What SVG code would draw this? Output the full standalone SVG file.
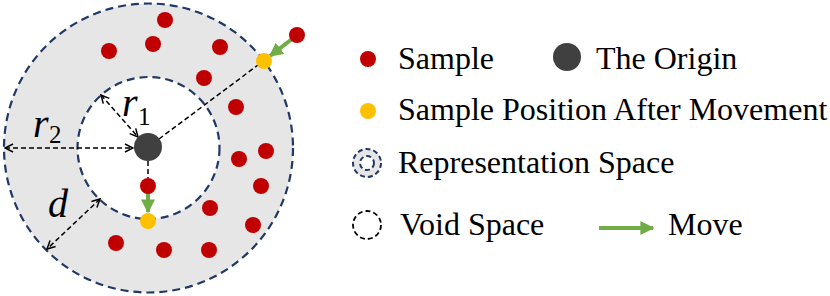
<svg xmlns="http://www.w3.org/2000/svg" width="830" height="296" viewBox="0 0 830 296">
<style>
.ring{stroke:#1f3864;stroke-width:2.2;stroke-dasharray:8 5;}
.dim{stroke:#000;stroke-width:1.5;stroke-dasharray:5 3;fill:none;}
.sample{fill:#c00000;}
.moved{fill:#ffc000;}
.origin{fill:#404040;}
.move{stroke:#70ad47;stroke-width:4;fill:none;}
.lbl{font-family:"Liberation Serif","Times New Roman",serif;font-size:32px;fill:#000;}
.math{font-family:"Liberation Serif","Times New Roman",serif;font-style:italic;font-size:40px;fill:#000;}
.sub{font-family:"Liberation Serif","Times New Roman",serif;font-size:25px;fill:#000;}
</style>
<defs>
<marker id="open" viewBox="0 0 10 10" refX="9" refY="5" markerWidth="10" markerHeight="10" markerUnits="userSpaceOnUse" orient="auto-start-reverse">
<path d="M1,1 L9,5 L1,9" fill="none" stroke="#000" stroke-width="1.5"/>
</marker>
<marker id="green" viewBox="0 0 10 10" refX="9" refY="5" markerWidth="14" markerHeight="14" markerUnits="userSpaceOnUse" orient="auto">
<path d="M0,0 L10,5 L0,10 Z" fill="#70ad47"/>
</marker>
</defs>

<g id="representation-space">
<circle cx="148.5" cy="148" r="144.5" fill="#e7e6e6" class="ring"/>
</g>
<g id="void-space">
<circle cx="148.5" cy="148" r="71" fill="#ffffff" class="ring"/>
</g>

<g id="connectors">
<line class="dim" x1="159" y1="139" x2="258" y2="65"/>
<line class="dim" x1="148" y1="161" x2="148" y2="178"/>
<line class="dim" x1="101" y1="95" x2="138" y2="137" marker-start="url(#open)" marker-end="url(#open)"/>
<line class="dim" x1="5" y1="148" x2="133" y2="148" marker-start="url(#open)" marker-end="url(#open)"/>
<line class="dim" x1="100" y1="199" x2="47" y2="249" marker-start="url(#open)" marker-end="url(#open)"/>
<line class="move" x1="292" y1="39" x2="270" y2="56" marker-end="url(#green)"/>
<line class="move" x1="148" y1="193" x2="148" y2="212" marker-end="url(#green)"/>
</g>

<g id="origin"><circle class="origin" cx="148" cy="147" r="14"/></g>

<g id="samples">
<circle class="sample" cx="165" cy="20" r="8"/>
<circle class="sample" cx="109" cy="51" r="8"/>
<circle class="sample" cx="153" cy="44" r="8"/>
<circle class="sample" cx="220" cy="47" r="8"/>
<circle class="sample" cx="297" cy="35" r="8"/>
<circle class="sample" cx="204" cy="78" r="8"/>
<circle class="sample" cx="236" cy="107" r="8"/>
<circle class="sample" cx="266" cy="151" r="8"/>
<circle class="sample" cx="239" cy="159" r="8"/>
<circle class="sample" cx="261" cy="186" r="8"/>
<circle class="sample" cx="210" cy="208" r="8"/>
<circle class="sample" cx="253" cy="225" r="8"/>
<circle class="sample" cx="116" cy="243" r="8"/>
<circle class="sample" cx="164" cy="250" r="8"/>
<circle class="sample" cx="209" cy="250" r="8"/>
<circle class="sample" cx="148" cy="186" r="8"/>
</g>
<g id="moved-samples">
<circle class="moved" cx="264" cy="61" r="8"/>
<circle class="moved" cx="148" cy="221" r="8"/>
</g>

<g id="labels">
<text class="math" x="122" y="116">r</text><text class="sub" x="138" y="125">1</text>
<text class="math" x="33" y="137">r</text><text class="sub" x="49" y="143">2</text>
<text class="math" x="48" y="217">d</text>
</g>

<g id="legend-sample">
<circle class="sample" cx="368" cy="59" r="8"/>
<text class="lbl" x="398" y="69">Sample</text>
</g>
<g id="legend-origin">
<circle class="origin" cx="567" cy="57" r="14"/>
<text class="lbl" x="596" y="69">The Origin</text>
</g>
<g id="legend-moved">
<circle class="moved" cx="368" cy="111" r="8"/>
<text class="lbl" x="398" y="120">Sample Position After Movement</text>
</g>
<g id="legend-representation">
<circle cx="367" cy="163" r="14" fill="#e7e6e6" stroke="#1f3864" stroke-width="2" stroke-dasharray="5 3"/>
<circle cx="367" cy="163" r="7" fill="#ffffff" stroke="#1f3864" stroke-width="2" stroke-dasharray="5 3"/>
<text class="lbl" x="398" y="173">Representation Space</text>
</g>
<g id="legend-void">
<circle cx="367" cy="225" r="14" fill="#ffffff" stroke="#000" stroke-width="1.8" stroke-dasharray="5 3"/>
<text class="lbl" x="400" y="235">Void Space</text>
</g>
<g id="legend-move">
<line class="move" x1="599" y1="228" x2="653" y2="228" marker-end="url(#green)"/>
<text class="lbl" x="668" y="235">Move</text>
</g>
</svg>
